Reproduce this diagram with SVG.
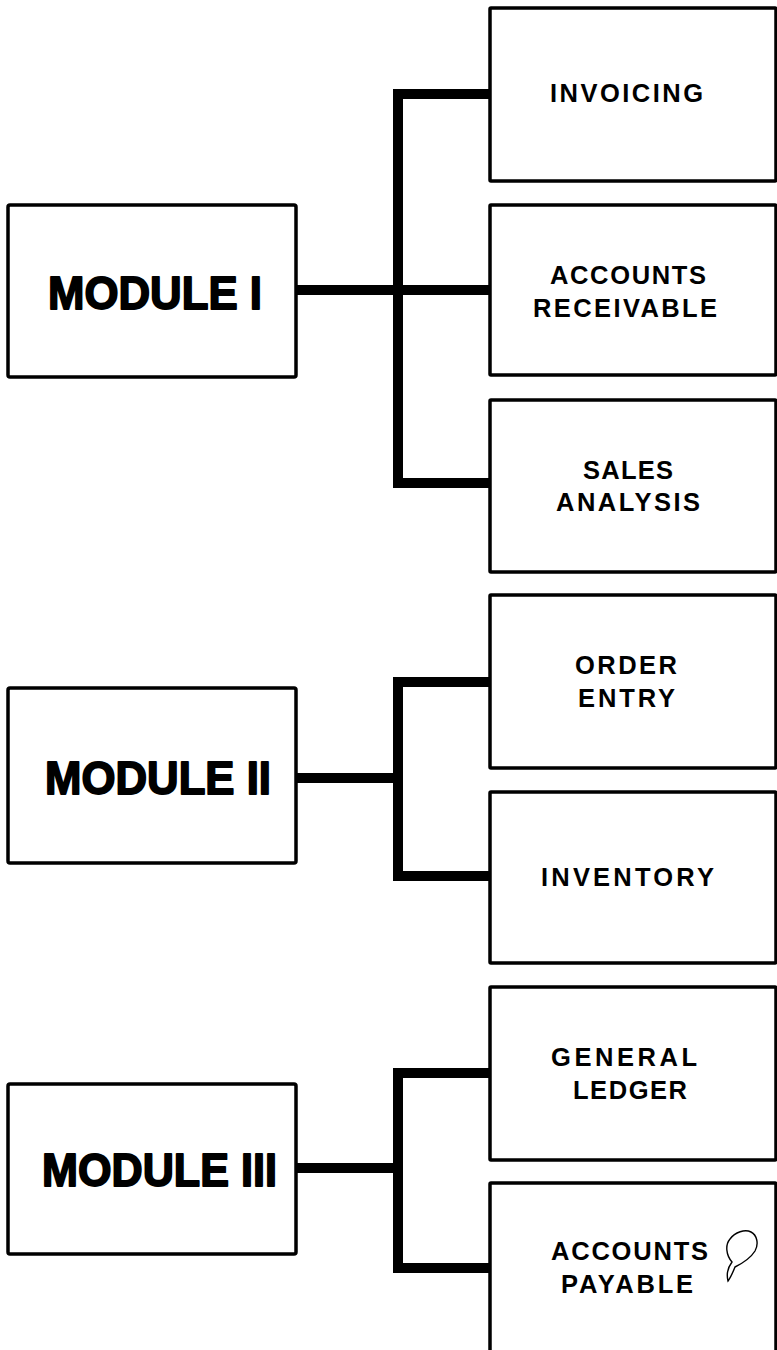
<svg xmlns="http://www.w3.org/2000/svg" width="777" height="1350" viewBox="0 0 777 1350">
<style>
.box{fill:#fff;stroke:#000;stroke-width:3.5;}
.mod{font-family:"Liberation Sans","Arial",sans-serif;font-weight:bold;font-size:47px;fill:#000;stroke:#000;stroke-width:1.8;stroke-linejoin:round;}
.lbl{font-family:"Liberation Sans","Arial",sans-serif;font-weight:bold;font-size:25.5px;fill:#000;}
.conn{fill:none;stroke:#000;stroke-width:10;stroke-linejoin:miter;stroke-linecap:butt;}
.doodle{fill:none;stroke:#000;stroke-width:1.4;}
</style>
<rect width="777" height="1350" fill="#fff"/>
<g id="connectors">
<path class="conn" d="M296,290 H490"/>
<path class="conn" d="M490,94 H398 V483 H490"/>
<path class="conn" d="M296,778 H398"/>
<path class="conn" d="M490,682 H398 V876 H490"/>
<path class="conn" d="M296,1168 H398"/>
<path class="conn" d="M490,1073 H398 V1268 H490"/>
</g>
<g id="module1"><rect class="box" x="8" y="205" width="288" height="172" rx="2"/><text class="mod" x="48" y="309" textLength="214" lengthAdjust="spacingAndGlyphs">MODULE I</text></g>
<g id="module2"><rect class="box" x="8" y="688" width="288" height="175" rx="2"/><text class="mod" x="45" y="794" textLength="226" lengthAdjust="spacingAndGlyphs">MODULE II</text></g>
<g id="module3"><rect class="box" x="8" y="1084" width="288" height="170" rx="2"/><text class="mod" x="42" y="1186" textLength="235" lengthAdjust="spacingAndGlyphs">MODULE III</text></g>
<g id="invoicing"><rect class="box" x="490" y="8" width="286" height="173" rx="1"/><text class="lbl" x="550" y="102" textLength="153" lengthAdjust="spacing">INVOICING</text></g>
<g id="accounts-receivable"><rect class="box" x="490" y="205" width="286" height="170" rx="1"/><text class="lbl" x="550" y="284" textLength="156" lengthAdjust="spacing">ACCOUNTS</text><text class="lbl" x="533" y="317" textLength="184" lengthAdjust="spacing">RECEIVABLE</text></g>
<g id="sales-analysis"><rect class="box" x="490" y="400" width="286" height="172" rx="1"/><text class="lbl" x="583" y="479" textLength="90" lengthAdjust="spacing">SALES</text><text class="lbl" x="556" y="511" textLength="144" lengthAdjust="spacing">ANALYSIS</text></g>
<g id="order-entry"><rect class="box" x="490" y="595" width="286" height="173" rx="1"/><text class="lbl" x="575" y="674" textLength="102" lengthAdjust="spacing">ORDER</text><text class="lbl" x="578" y="707" textLength="97" lengthAdjust="spacing">ENTRY</text></g>
<g id="inventory"><rect class="box" x="490" y="792" width="286" height="171" rx="1"/><text class="lbl" x="541" y="886" textLength="173" lengthAdjust="spacing">INVENTORY</text></g>
<g id="general-ledger"><rect class="box" x="490" y="987" width="286" height="173" rx="1"/><text class="lbl" x="551" y="1066" textLength="146" lengthAdjust="spacing">GENERAL</text><text class="lbl" x="573" y="1099" textLength="114" lengthAdjust="spacing">LEDGER</text></g>
<g id="accounts-payable"><rect class="box" x="490" y="1183" width="286" height="190" rx="1"/><text class="lbl" x="551" y="1260" textLength="157" lengthAdjust="spacing">ACCOUNTS</text><text class="lbl" x="561" y="1293" textLength="132" lengthAdjust="spacing">PAYABLE</text>
<path class="doodle" d="M728,1281 C726,1273 729,1266 732,1262 C726,1255 725,1245 730,1239 C735,1232 745,1229 751,1232 C757,1235 759,1244 755,1251 C750,1259 741,1264 735,1267 C733,1272 731,1277 728,1281 Z"/></g>
</svg>
